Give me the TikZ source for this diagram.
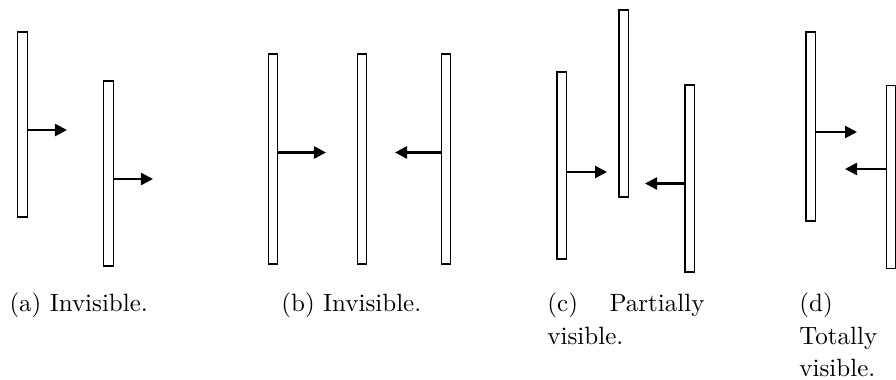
\documentclass[tikz,border=0pt]{standalone}
\usetikzlibrary{arrows.meta}
\begin{document}
\begin{tikzpicture}[x=0.4pt,y=-0.4pt,
  wall/.style={draw,line width=0.5pt,fill=white,inner sep=0pt,outer sep=0pt,minimum width=3.7pt},
  arr/.style={line width=1pt,-{Triangle[length=4.8pt,width=4.8pt]}},
  captext/.style={anchor=base west,inner sep=0pt,font=\fontsize{10}{13}\selectfont,align=left}]
\useasboundingbox (0,0) rectangle (896,380);
% (a)
\node[wall,minimum height=74pt] (a1) at (22.5,124.5) {};
\node[wall,minimum height=74pt] (a2) at (108.5,173.5) {};
\coordinate (ta1) at (67,130);
\coordinate (ta2) at (153,179);
\draw[arr] (a1.east |- ta1) -- (ta1);
\draw[arr] (a2.east |- ta2) -- (ta2);
% (b)
\node[wall,minimum height=84pt] (b1) at (273,159) {};
\node[wall,minimum height=84pt] (b2) at (362,159) {};
\node[wall,minimum height=84pt] (b3) at (446,159) {};
\coordinate (tb1) at (326,152.5);
\coordinate (tb3) at (395,152.5);
\draw[arr] (b1.east |- tb1) -- (tb1);
\draw[arr] (b3.west |- tb3) -- (tb3);
% (c)
\node[wall,minimum height=74.8pt] (c1) at (561.5,165.5) {};
\node[wall,minimum height=74.8pt] (c2) at (623.5,103.5) {};
\node[wall,minimum height=74.8pt] (c3) at (689.5,178.5) {};
\coordinate (tc1) at (607,172);
\coordinate (tc3) at (645,183.5);
\draw[arr] (c1.east |- tc1) -- (tc1);
\draw[arr] (c3.west |- tc3) -- (tc3);
% (d)
\node[wall,minimum height=75.6pt] (d1) at (810.5,126.5) {};
\node[wall,minimum height=73pt] (d2) at (891,177) {};
\coordinate (td1) at (857,132);
\coordinate (td2) at (845,169);
\draw[arr] (d1.east |- td1) -- (td1);
\draw[arr] (d2.west |- td2) -- (td2);
% captions
\node[captext] (capa) at (9,312) {(a) Invisible.};
\node[captext] (capb) at (281,312) {(b) Invisible.};
\node[captext,text width=62.8pt] (capc) at (547,312) {(c)\hfill Partially\\visible.};
\node[captext,text width=38pt] (capd) at (799,312) {(d)\\Totally\\visible.};
\end{tikzpicture}
\end{document}
